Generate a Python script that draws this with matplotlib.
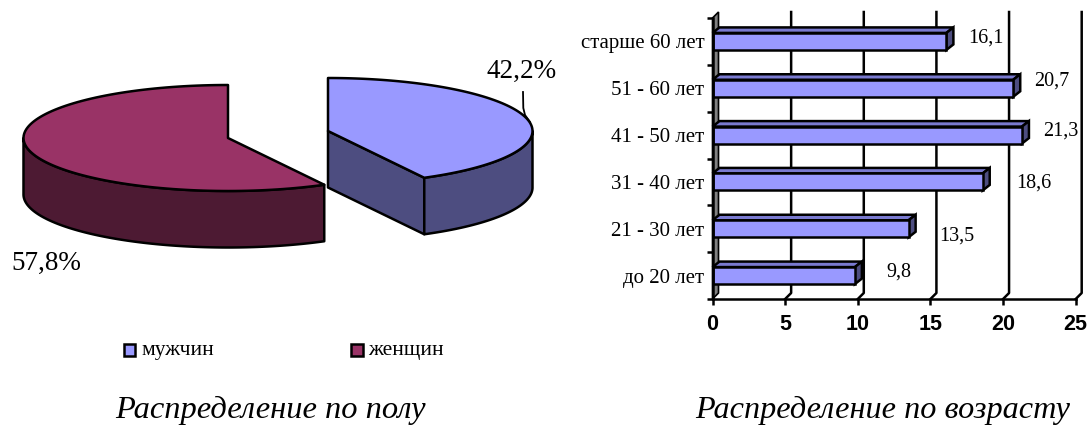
import numpy as np
import matplotlib
matplotlib.use('Agg')
import matplotlib.pyplot as plt
from matplotlib.patches import Polygon, Rectangle

plt.rcParams['font.family'] = ['Liberation Serif', 'DejaVu Serif']

# ---------- Данные ----------
pie_names = ['мужчин', 'женщин']
pie_shares = [42.2, 57.8]
pie_labels = ['42,2%', '57,8%']

age_groups = ['до 20 лет', '21 - 30 лет', '31 - 40 лет', '41 - 50 лет', '51 - 60 лет', 'старше 60 лет']
age_values = [9.8, 13.5, 18.6, 21.3, 20.7, 16.1]
age_labels = ['9,8', '13,5', '18,6', '21,3', '20,7', '16,1']
x_ticks = [0, 5, 10, 15, 20, 25]

# ---------- Цвета ----------
BLUE = '#9999FF'
BLUE_DARK = '#4D4D80'
RED = '#993366'
RED_DARK = '#4D1A33'
LW = 1.8

W, H = 1088, 425
fig = plt.figure(figsize=(W / 100, H / 100), dpi=100)

# холст в пикселях для круговой диаграммы и подписей
canvas = fig.add_axes([0, 0, 1, 1])
canvas.set_xlim(0, W)
canvas.set_ylim(H, 0)
canvas.axis('off')

# ---------- Круговая диаграмма ----------
RX, RY, DEPTH = 204.5, 53, 56.5


def rim(cx, cy, a0, a1, n=120):
    # угол считается от 12 часов по часовой стрелке
    t = np.deg2rad(np.linspace(a0, a1, n))
    return np.column_stack([cx + RX * np.sin(t), cy - RY * np.cos(t)])


def side(arc, color):
    low = arc[::-1] + [0, DEPTH]
    canvas.add_patch(Polygon(np.vstack([arc, low]), fc=color, ec='black', lw=LW, joinstyle='round'))


split = 360 * pie_shares[0] / sum(pie_shares)
men_c = (328, 131)
women_c = (228, 138)

# женщины: видимая стенка от левого края до разреза
side(rim(*women_c, split, 270), RED_DARK)
arc = rim(*women_c, split, 360)
canvas.add_patch(Polygon(np.vstack([[women_c], arc]), fc=RED, ec='black', lw=LW, joinstyle='round'))

# мужчины: внутренняя грань, внешняя стенка и верх
arc = rim(*men_c, 0, split)
tip = arc[-1]
inner = [men_c, tip, tip + [0, DEPTH], np.array(men_c) + [0, DEPTH]]
canvas.add_patch(Polygon(inner, fc=BLUE_DARK, ec='black', lw=LW, joinstyle='round'))
side(rim(*men_c, 90, split), BLUE_DARK)
canvas.add_patch(Polygon(np.vstack([[men_c], arc]), fc=BLUE, ec='black', lw=LW, joinstyle='round'))

canvas.text(522, 78, pie_labels[0], fontsize=19.5, ha='center', va='baseline')
canvas.text(46.5, 270, pie_labels[1], fontsize=19.5, ha='center', va='baseline')
canvas.plot([523, 523.3, 525, 530], [92, 108, 115, 122], color='black', lw=1.3)

# легенда
for x, col, name in zip([123.5, 351], [BLUE, RED], pie_names):
    canvas.add_patch(Rectangle((x, 343.5), 11.5, 12, fc=col, ec='black', lw=1.8))
    canvas.text(x + 17.5, 351, name, fontsize=15.5, ha='left', va='center')

# подписи под диаграммами
canvas.text(270, 418, 'Распределение по полу', fontsize=23.4, style='italic', ha='center', va='baseline')
canvas.text(883, 418, 'Распределение по возрасту', fontsize=23.2, style='italic', ha='center', va='baseline')

# ---------- Столбчатая диаграмма ----------
left, right, top, bottom = 712.5, 1075.7, 18, 299
ax = fig.add_axes([left / W, 1 - bottom / H, (right - left) / W, (bottom - top) / H])
ax.set_xlim(0, 25)
ax.set_ylim(0, 6)
ax.patch.set_visible(False)

px_x = 25 / (right - left)
px_y = 6 / (bottom - top)
grid_dx, grid_dy = 6 * px_x, 6 * px_y
y_top = 6 + 6 * px_y

# боковая стенка
ax.add_patch(Polygon([(0, 0), (grid_dx, grid_dy), (grid_dx, y_top), (0, 6)],
                     fc='#808080', ec='black', lw=1.2, clip_on=False, zorder=1))

# линии сетки на задней стенке
for v in x_ticks[1:]:
    ax.plot([v, v + grid_dx, v + grid_dx], [0, grid_dy, y_top], color='black', lw=LW, clip_on=False, zorder=1)

bar_h = 17 * px_y
bar_dx, bar_dy = 7 * px_x, 5.5 * px_y
label_offsets = [(44, -3.5), (48, 7), (51, 1), (39, -4), (39, -7), (40, -3.5)]

for i, (val, txt) in enumerate(zip(age_values, age_labels)):
    y0 = i + 0.5 - bar_h / 2
    y1 = y0 + bar_h
    ax.add_patch(Polygon([(0, y1), (bar_dx, y1 + bar_dy), (val + bar_dx, y1 + bar_dy), (val, y1)],
                         fc='#7A7AD0', ec='black', lw=LW, clip_on=False, zorder=3))
    ax.add_patch(Polygon([(val, y0), (val + bar_dx, y0 + bar_dy), (val + bar_dx, y1 + bar_dy), (val, y1)],
                         fc=BLUE_DARK, ec='black', lw=LW, clip_on=False, zorder=3))
    ax.barh(i + 0.5, val, height=bar_h, color=BLUE, edgecolor='black', linewidth=LW, zorder=4)
    off = label_offsets[i]
    ax.annotate(txt, (val, i + 0.5), xytext=(off[0] * 0.72, -off[1] * 0.72), textcoords='offset points',
                fontsize=14.5, ha='center', va='center', zorder=5)

# оси
for s in ['top', 'right']:
    ax.spines[s].set_visible(False)
for s in ['left', 'bottom']:
    ax.spines[s].set_linewidth(LW)
    ax.spines[s].set_zorder(6)
ax.set_xticks(x_ticks)
ax.set_xticklabels([str(v) for v in x_ticks], family='Liberation Sans', weight='bold', fontsize=15.5)
ax.tick_params(axis='x', length=4, width=LW, pad=7)
ax.set_yticks(range(7))
ax.set_yticklabels([])
ax.set_yticks(np.arange(6) + 0.5, minor=True)
ax.set_yticklabels(age_groups, minor=True, fontsize=15)
ax.tick_params(axis='y', which='major', length=4, width=LW)
ax.tick_params(axis='y', which='minor', length=0, pad=6)

fig.savefig('out.png', dpi=100)
